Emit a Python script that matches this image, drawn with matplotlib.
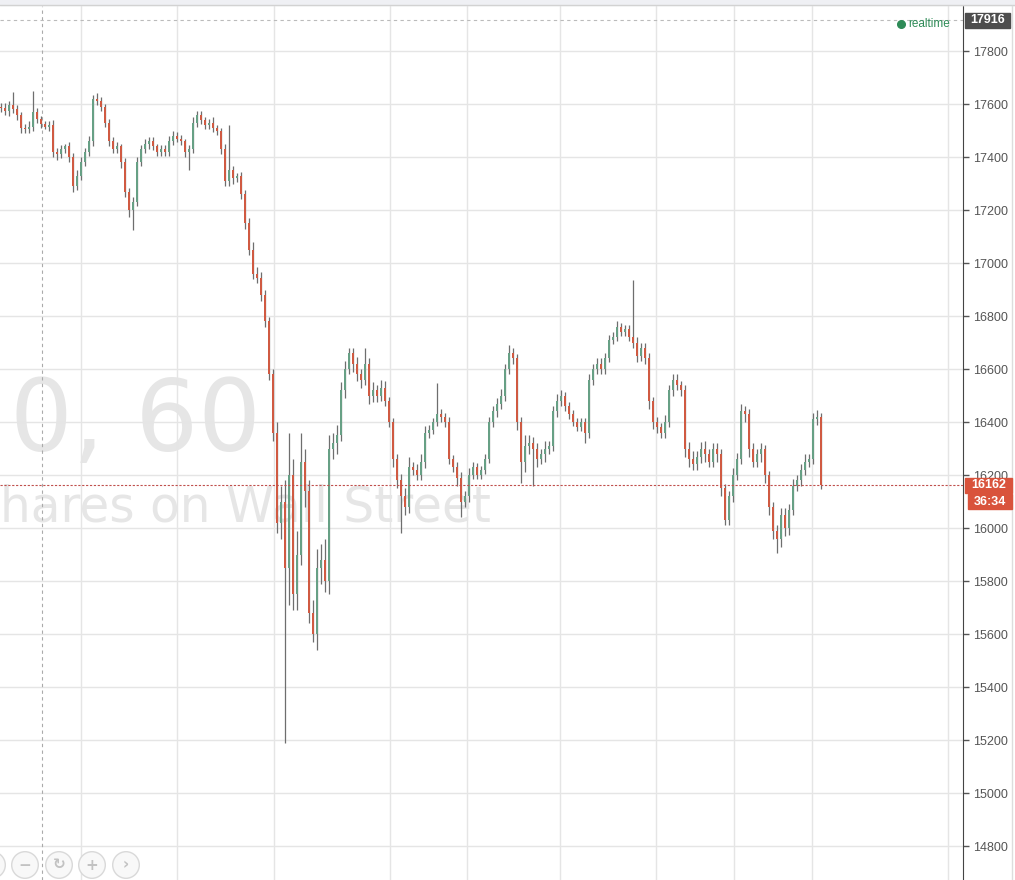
import matplotlib
matplotlib.use("Agg")
import matplotlib.pyplot as plt
from matplotlib.patches import Circle, Rectangle

# candle data (one candle per column of the chart)
first_open = 17590
close = [
    17585, 17575, 17595, 17580, 17560, 17510, 17505, 17515, 17570, 17545,
    17525, 17515, 17520, 17420, 17410, 17430, 17440, 17400, 17290, 17330,
    17380, 17420, 17460, 17620, 17610, 17590, 17530, 17460, 17430, 17440,
    17380, 17270, 17200, 17230, 17380, 17430, 17450, 17460, 17440, 17420,
    17430, 17420, 17460, 17480, 17470, 17460, 17420, 17430, 17530, 17560,
    17540, 17520, 17530, 17510, 17500, 17430, 17310, 17350, 17320, 17330,
    17260, 17150, 17050, 16960, 16945, 16880, 16780, 16580, 16360, 16020,
    16100, 15850, 16200, 15750, 15900, 16250, 16140, 15680, 15600, 15850,
    15880, 15800, 16300, 16320, 16350, 16520, 16600, 16660, 16620, 16580,
    16560, 16620, 16500, 16520, 16500, 16530, 16480, 16400, 16260, 16180,
    16120, 16080, 16230, 16220, 16200, 16250, 16360, 16370, 16400, 16430,
    16420, 16400, 16260, 16230, 16190, 16100, 16120, 16200, 16230, 16200,
    16220, 16260, 16400, 16440, 16470, 16500, 16600, 16660, 16640, 16400,
    16250, 16310, 16320, 16300, 16260, 16280, 16300, 16310, 16440, 16480,
    16500, 16460, 16430, 16400, 16380, 16400, 16360, 16560, 16600, 16620,
    16600, 16640, 16710, 16720, 16760, 16740, 16750, 16720, 16700, 16650,
    16680, 16640, 16480, 16400, 16380, 16360, 16400, 16520, 16560, 16540,
    16520, 16300, 16260, 16240, 16270, 16300, 16280, 16250, 16300, 16280,
    16150, 16030, 16120, 16200, 16260, 16440, 16430, 16300, 16250, 16280,
    16300, 16200, 16080, 15990, 15960, 16050, 16000, 16070, 16160, 16180,
    16220, 16250, 16260, 16410, 16420, 16162,
]
wick_up = [
    15, 20, 15, 50, 15, 10, 15, 20, 80, 15,
    10, 10, 15, 20, 15, 15, 10, 15, 15, 20,
    20, 15, 20, 15, 20, 15, 10, 15, 15, 15,
    10, 15, 15, 20, 20, 15, 20, 15, 15, 10,
    15, 15, 20, 20, 15, 15, 10, 15, 20, 15,
    15, 10, 15, 20, 10, 10, 20, 170, 15, 10,
    15, 15, 20, 30, 25, 20, 20, 15, 20, 40,
    60, 80, 160, 60, 90, 110, 50, 40, 50, 70,
    60, 80, 50, 40, 40, 30, 30, 20, 20, 25,
    20, 60, 20, 30, 20, 30, 25, 15, 15, 20,
    25, 30, 40, 20, 20, 30, 25, 20, 15, 117,
    20, 15, 20, 15, 20, 20, 20, 25, 20, 15,
    15, 20, 20, 20, 20, 25, 20, 30, 20, 15,
    20, 40, 30, 25, 20, 20, 30, 20, 20, 25,
    20, 15, 15, 15, 15, 15, 15, 20, 20, 20,
    20, 20, 20, 20, 20, 15, 15, 15, 215, 20,
    20, 20, 20, 15, 20, 15, 25, 20, 20, 20,
    15, 20, 25, 30, 20, 25, 30, 20, 20, 20,
    20, 15, 20, 25, 25, 30, 20, 20, 20, 20,
    20, 15, 15, 20, 20, 25, 25, 20, 25, 20,
    20, 30, 20, 25, 25, 15,
]
wick_dn = [
    15, 15, 20, 15, 20, 20, 15, 15, 15, 15,
    15, 10, 15, 20, 20, 15, 15, 20, 20, 15,
    15, 15, 15, 20, 15, 15, 15, 20, 15, 15,
    20, 20, 25, 75, 15, 15, 15, 20, 15, 15,
    15, 15, 15, 15, 15, 15, 20, 70, 15, 15,
    15, 15, 15, 15, 15, 20, 20, 20, 20, 15,
    20, 20, 20, 20, 20, 25, 20, 20, 30, 40,
    60, 660, 140, 60, 60, 40, 60, 40, 30, 60,
    60, 40, 50, 40, 40, 20, 30, 20, 30, 25,
    30, 20, 30, 25, 25, 20, 20, 20, 30, 30,
    140, 30, 25, 20, 20, 20, 25, 20, 15, 15,
    20, 20, 20, 20, 30, 60, 20, 20, 15, 15,
    15, 15, 15, 20, 20, 20, 20, 20, 20, 30,
    80, 40, 30, 140, 30, 20, 30, 20, 20, 20,
    20, 20, 20, 15, 15, 15, 40, 20, 20, 20,
    20, 20, 15, 15, 15, 15, 15, 15, 20, 25,
    20, 20, 30, 25, 20, 20, 20, 20, 20, 20,
    20, 30, 30, 20, 20, 25, 30, 20, 20, 30,
    30, 20, 20, 20, 20, 20, 30, 30, 20, 20,
    30, 30, 30, 30, 55, 30, 30, 25, 20, 20,
    20, 20, 20, 20, 20, 15,
]

last_price = 16162
top_price = 17916
countdown = "36:34"
price_ticks = list(range(14800, 17801, 200))
session_lines = [20, 44, 68.25, 97.25, 116.5, 139.75, 163.75, 183.25, 202.75, 236.75]
crosshair_x = 10.25

# derived OHLC
opens = [first_open] + close[:-1]
highs = [max(o, c) + u for o, c, u in zip(opens, close, wick_up)]
lows = [min(o, c) - d for o, c, d in zip(opens, close, wick_dn)]
idx = list(range(len(close)))

UP = "#67a085"
DOWN = "#d05a42"
W, H = 1015, 880

fig = plt.figure(figsize=(W / 100, H / 100), dpi=100)
ax = fig.add_axes([0, 0, 963 / W, 874 / H])
ax.set_xlim(-0.25, 963 / 4 - 0.25)
ax.set_ylim(14672, 17970)

# overlay axes in pixel units for decorations
ov = fig.add_axes([0, 0, 1, 1], zorder=10)
ov.set_xlim(0, W)
ov.set_ylim(H, 0)
ov.axis("off")
ov.patch.set_alpha(0)

# grid
ax.set_yticks(price_ticks)
ax.set_xticks(session_lines)
ax.grid(True, color="#e5e5e5", lw=1, zorder=0)
ax.set_axisbelow(True)
ax.yaxis.tick_right()
ax.tick_params(axis="x", length=0, labelbottom=False)
ax.tick_params(axis="y", direction="out", length=4, width=1, pad=3,
               colors="#555555", labelsize=9, labelfontfamily="Liberation Sans")
for s in ["top", "left", "bottom"]:
    ax.spines[s].set_visible(False)
ax.spines["right"].set_color("#444444")

# watermark
ax.text(10, 451, "0, 60", transform=ov.transData, fontsize=71,
        color="#e6e6e6", ha="left", va="baseline", zorder=0.5)
ax.text(-31, 521, "Shares on Wall Street", transform=ov.transData, fontsize=35,
        color="#e6e6e6", ha="left", va="baseline", zorder=0.5)

# crosshair / reference lines
ax.axvline(crosshair_x, color="#aaaaaa", lw=0.8, ls=(0, (3, 3)), zorder=1)
ax.axhline(top_price, color="#bbbbbb", lw=0.8, ls=(0, (3, 3)), zorder=1)
ax.axhline(last_price, color="#c0504d", lw=0.8, ls=(0, (2, 1.5)), zorder=4)

# candles
ax.vlines(idx, lows, highs, colors="#6e6e6e", lw=0.9, zorder=2)
bottoms = [min(o, c) for o, c in zip(opens, close)]
heights = [max(abs(c - o), 4) for o, c in zip(opens, close)]
cols = [UP if c >= o else DOWN for o, c in zip(opens, close)]
ax.bar(idx, heights, bottom=bottoms, width=0.65, color=cols, lw=0, zorder=3)

# top band and right border
ov.add_patch(Rectangle((0, 0), W, 5.5, color="#eff0f4"))
ov.plot([0, W], [5.5, 5.5], color="#d2d2d2", lw=1)
ov.plot([1012, 1012], [6, H], color="#dddddd", lw=1)


def py(val):
    return H - ax.transData.transform((0, val))[1]


# price labels on the axis
y = py(top_price)
ov.add_patch(Rectangle((965, y - 7.5), 45, 15, color="#4d4d4d", zorder=5))
ov.text(987.5, y, str(top_price), ha="center", va="center", color="white",
        fontsize=9, fontweight="bold", family="Liberation Sans", zorder=6)
y = py(last_price)
ov.add_patch(Rectangle((965, y - 7.5), 47, 15, color="#d9533c", zorder=5))
ov.text(988.5, y, str(last_price), ha="center", va="center", color="white",
        fontsize=9, fontweight="bold", family="Liberation Sans", zorder=6)
ov.add_patch(Rectangle((968, y + 9), 44, 15, color="#d9533c", zorder=5))
ov.text(990, y + 16.5, countdown, ha="center", va="center", color="white",
        fontsize=9, fontweight="bold", family="Liberation Sans", zorder=6)

# realtime marker
ov.plot(901, 24.5, "o", ms=5.5, color="#2e8b57")
ov.text(908, 24, "realtime", ha="left", va="center", fontsize=8.5,
        color="#2e8b57", family="Liberation Sans")

# navigation buttons
for cx, sym in zip([-8, 25, 59, 92, 126], ["", "\u2212", "\u21bb", "+", "\u203a"]):
    ov.add_patch(Circle((cx, 865), 13.3, fc="#f8f8f8", ec="#d9d9d9", lw=1))
    if sym:
        ov.text(cx, 865, sym, ha="center", va="center", fontsize=11,
                color="#c2c2c2", fontweight="bold")

fig.savefig("out.png", dpi=100)
